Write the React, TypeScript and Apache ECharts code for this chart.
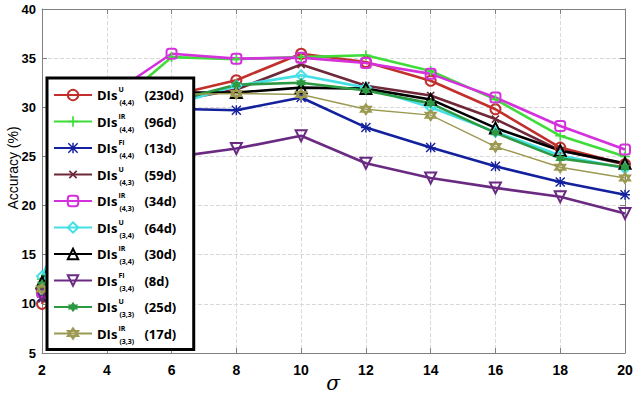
import React, { useEffect, useRef } from "react";
import * as echarts from "echarts";

// sigma values on the x axis
const sigma = [2, 4, 6, 8, 10, 12, 14, 16, 18, 20];

// accuracy (%) per descriptor set
const dis44U = [10.0, 27.0, 31.2, 32.75, 35.45, 34.6, 32.7, 29.8, 25.9, 24.2];
const dis44IR = [12.5, 29.5, 35.1, 34.9, 35.1, 35.3, 33.7, 30.8, 27.1, 25.0];
const dis44FI = [10.7, 26.0, 29.85, 29.7, 31.0, 27.95, 25.9, 24.0, 22.4, 21.1];
const dis43U = [10.5, 26.5, 30.6, 31.8, 34.35, 32.2, 31.2, 28.8, 25.6, 24.2];
const dis43IR = [11.2, 31.0, 35.45, 34.95, 35.05, 34.5, 33.4, 31.0, 28.1, 25.7];
const dis34U = [12.8, 27.5, 30.2, 32.2, 33.25, 32.0, 30.0, 27.5, 25.1, 23.8];
const dis34IR = [12.2, 28.0, 31.5, 31.5, 32.0, 31.9, 30.8, 27.9, 25.6, 24.3];
const dis34FI = [10.9, 20.5, 24.9, 25.8, 27.1, 24.3, 22.8, 21.8, 20.9, 19.2];
const dis33U = [12.0, 27.5, 30.6, 32.3, 32.5, 31.7, 30.4, 27.4, 24.8, 23.9];
const dis33IR = [11.5, 27.8, 31.3, 31.4, 31.3, 29.8, 29.2, 26.0, 23.9, 22.8];

// legend label parts
const supers = ["U", "IR", "FI", "U", "IR", "U", "IR", "FI", "U", "IR"];
const subs = ["(4,4)", "(4,4)", "(4,4)", "(4,3)", "(4,3)", "(3,4)", "(3,4)", "(3,4)", "(3,3)", "(3,3)"];
const days = ["(230d)", "(96d)", "(13d)", "(59d)", "(34d)", "(64d)", "(30d)", "(8d)", "(25d)", "(17d)"];

const yTicks = { min: 5, max: 40, interval: 5 };
const yTitle = "Accuracy (%)";
const xTitle = "σ";

const PLUS = "path://M4.2,0H5.8V4.2H10V5.8H5.8V10H4.2V5.8H0V4.2H4.2Z";
const STAR =
  "path://M0,4.3H10V5.7H0Z M4.3,0H5.7V10H4.3Z M0,1L1,0L10,9L9,10Z M9,0L10,1L1,10L0,9Z";
const HEXA = "path://M5,0L9.33,7.5L0.67,7.5Z M5,10L0.67,2.5L9.33,2.5Z";

const seriesDefs = [
  { data: dis44U, color: "#c2302c", symbol: "circle", hollow: true, rotate: 0, width: 2.6 },
  { data: dis44IR, color: "#3fdc3a", symbol: PLUS, hollow: false, rotate: 0, width: 2.6 },
  { data: dis44FI, color: "#14219e", symbol: STAR, hollow: false, rotate: 0, width: 2.6 },
  { data: dis43U, color: "#6e2838", symbol: PLUS, hollow: false, rotate: 45, width: 2.6 },
  { data: dis43IR, color: "#d431dc", symbol: "roundRect", hollow: true, rotate: 0, width: 2.6 },
  { data: dis34U, color: "#45e0e6", symbol: "diamond", hollow: true, rotate: 0, width: 2.6 },
  { data: dis34IR, color: "#000000", symbol: "triangle", hollow: true, rotate: 0, width: 2.6 },
  { data: dis34FI, color: "#6a2a82", symbol: "triangle", hollow: true, rotate: 180, width: 2.6 },
  { data: dis33U, color: "#2c9a42", symbol: HEXA, hollow: false, rotate: 0, width: 2.6 },
  { data: dis33IR, color: "#9c9a52", symbol: HEXA, hollow: true, rotate: 0, width: 1.4 },
];

const names = supers.map((s, i) => `DIs ${s} ${subs[i]} ${days[i]}`);

export default function App() {
  const ref = useRef<HTMLDivElement>(null);

  useEffect(() => {
    if (!ref.current) return;
    const chart = echarts.init(ref.current, null, { renderer: "svg" });

    const series = seriesDefs.map((d, i) => ({
      name: names[i],
      type: "line",
      data: d.data.map((v, k) => [sigma[k], v]),
      color: d.color,
      symbol: d.symbol,
      symbolSize: d.symbol === "triangle" ? 11 : 10,
      symbolRotate: d.rotate,
      showAllSymbol: true,
      lineStyle: { color: d.color, width: d.width },
      itemStyle: d.hollow
        ? { color: "rgba(255,255,255,0)", borderColor: d.color, borderWidth: 2 }
        : { color: d.color, borderWidth: 0 },
      emphasis: { disabled: true },
      z: 3,
    }));

    const labelFont = {
      fontFamily: "Liberation Sans, Arial, sans-serif",
      fontWeight: "bold" as const,
      fontSize: 13,
      color: "#000",
    };

    chart.setOption({
      animation: false,
      backgroundColor: "#fff",
      grid: { left: 42, right: 8, top: 9, bottom: 45, outerBoundsMode: "none" },
      graphic: [
        {
          type: "text",
          x: 13,
          y: 168,
          rotation: Math.PI / 2,
          style: {
            text: yTitle,
            fontFamily: "Liberation Sans, Arial, sans-serif",
            fontSize: 14,
            fill: "#000",
            align: "center",
            verticalAlign: "middle",
          },
        },
        {
          type: "text",
          x: 333,
          y: 383,
          style: {
            text: xTitle,
            fontFamily: "DejaVu Serif, serif",
            fontStyle: "italic",
            fontSize: 20,
            fill: "#000",
            align: "center",
            verticalAlign: "middle",
          },
        },
      ],
      xAxis: [
        {
          type: "value",
          min: 2,
          max: 20,
          interval: 2,
          axisLine: { show: true, lineStyle: { color: "#808080", width: 1 } },
          axisTick: { show: true, inside: true, length: 5, lineStyle: { color: "#808080" } },
          axisLabel: { ...labelFont, fontSize: 14, margin: 10 },
          splitLine: { show: true, lineStyle: { color: "#d9d9d9", type: "dashed" } },
        },
        {
          type: "value",
          position: "top",
          min: 2,
          max: 20,
          interval: 2,
          axisLine: { show: true, lineStyle: { color: "#808080", width: 1 } },
          axisTick: { show: true, inside: true, length: 5, lineStyle: { color: "#808080" } },
          axisLabel: { show: false },
          splitLine: { show: false },
        },
      ],
      yAxis: [
        {
          type: "value",
          ...yTicks,
          axisLine: { show: true, lineStyle: { color: "#808080", width: 1 } },
          axisTick: { show: true, inside: true, length: 5, lineStyle: { color: "#808080" } },
          axisLabel: { ...labelFont, margin: 6 },
          splitLine: { show: true, lineStyle: { color: "#d9d9d9", type: "dashed" } },
        },
        {
          type: "value",
          position: "right",
          ...yTicks,
          axisLine: { show: true, lineStyle: { color: "#808080", width: 1 } },
          axisTick: { show: true, inside: true, length: 5, lineStyle: { color: "#808080" } },
          axisLabel: { show: false },
          splitLine: { show: false },
        },
      ],
      legend: {
        orient: "vertical",
        left: 47,
        top: 78,
        padding: [6, 10, 5, 6],
        itemGap: 4.5,
        itemWidth: 38,
        itemHeight: 13,
        backgroundColor: "#fff",
        borderColor: "#000",
        borderWidth: 3,
        selectedMode: false,
        data: names,
        formatter: (name: string) => {
          const i = names.indexOf(name);
          return `{n|DIs}{sup|${supers[i]}}{sub|${subs[i]}}{d|${days[i]}}`;
        },
        textStyle: {
          rich: {
            n: {
              fontFamily: "Open Sans, sans-serif",
              fontWeight: "bold",
              fontSize: 13,
              lineHeight: 22,
              color: "#000",
              verticalAlign: "middle",
            },
            sup: {
              fontFamily: "Open Sans, sans-serif",
              fontWeight: "bold",
              fontSize: 7,
              width: 0,
              lineHeight: 22,
              color: "#000",
              verticalAlign: "top",
              padding: [2, 0, 0, 1],
            },
            sub: {
              fontFamily: "Open Sans, sans-serif",
              fontWeight: "bold",
              fontSize: 7,
              width: 22,
              lineHeight: 22,
              color: "#000",
              verticalAlign: "bottom",
              padding: [0, 0, 0, 1],
            },
            d: {
              fontFamily: "Open Sans, sans-serif",
              fontWeight: "bold",
              fontSize: 13,
              lineHeight: 22,
              color: "#000",
              verticalAlign: "middle",
              padding: [0, 0, 0, 3],
            },
          },
        },
      },
      series,
    });

    return () => chart.dispose();
  }, []);

  return (
    <div
      ref={ref}
      style={{ position: "fixed", left: 0, top: 0, width: 633, height: 398 }}
    />
  );
}
